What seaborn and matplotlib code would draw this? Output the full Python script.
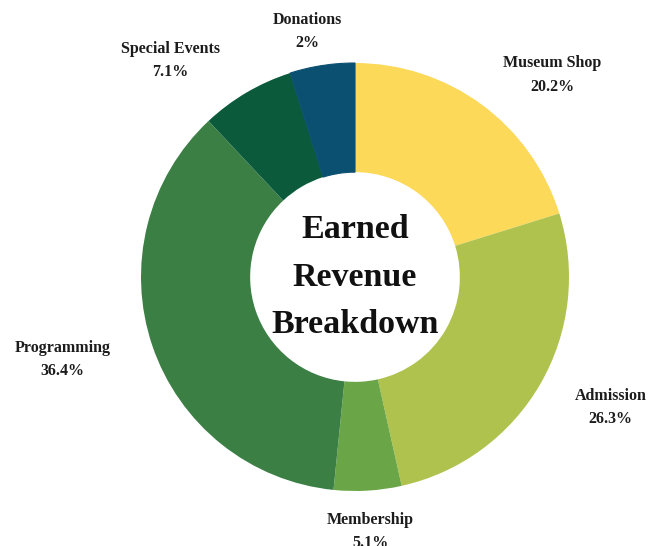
import numpy as np
import matplotlib.pyplot as plt
import seaborn as sns

# Earned revenue shares (%)
categories = ['Museum Shop', 'Admission', 'Membership', 'Programming', 'Special Events', 'Donations']
shares = [20.2, 26.3, 5.1, 36.4, 7.1, 2.0]
colors = ['#fdd95a', '#b0c24e', '#6aa647', '#3b7f45', '#0b5a3b', '#0c5071']

# the labelled shares add up to 97.1; the leftover is drawn in the donations colour
rest = 100 - sum(shares)
values = shares + [rest]
slice_colors = colors + [colors[-1]]

sns.set_theme(style="white")
plt.rcParams['font.family'] = ['Liberation Serif', 'DejaVu Serif']

fig = plt.figure(figsize=(6.63, 5.46), dpi=100)
ax = fig.add_axes([0, 0, 1, 1])

wedges, _ = ax.pie(values, colors=slice_colors, startangle=90, counterclock=False,
                   radius=1.0, wedgeprops=dict(width=0.51, edgecolor='none', linewidth=0))
# hide the seam between donations and the leftover
for w in wedges[-2:]:
    w.set_edgecolor(colors[-1])
    w.set_linewidth(0.8)

# label radius and angle nudge per category
label_r = [1.32, 1.34, 1.19, 1.42, 1.33, 1.17]
label_nudge = [-8, 3, 0, -3, 10, -3]
for i, name in enumerate(categories):
    w = wedges[i]
    mid = np.deg2rad((w.theta1 + w.theta2) / 2 + label_nudge[i])
    x = label_r[i] * np.cos(mid)
    y = label_r[i] * np.sin(mid)
    ax.text(x, y, f"{name}\n{shares[i]:g}%", ha='center', va='center',
            fontsize=11.5, fontweight='bold', color='#1c1c1c', linespacing=1.6)

ax.text(0, 0.0, "Earned\nRevenue\nBreakdown", ha='center', va='center',
        fontsize=24.5, fontweight='bold', color='#111111', linespacing=1.68)

# place the ring where it sits in the reference (centre ~355,277 px, radius ~214 px)
px = 214.0
ax.set_xlim(-355 / px, (663 - 355) / px)
ax.set_ylim(-(546 - 277) / px, 277 / px)
ax.set_aspect('auto')
ax.axis('off')

fig.savefig('out.png', dpi=100, facecolor='white')
